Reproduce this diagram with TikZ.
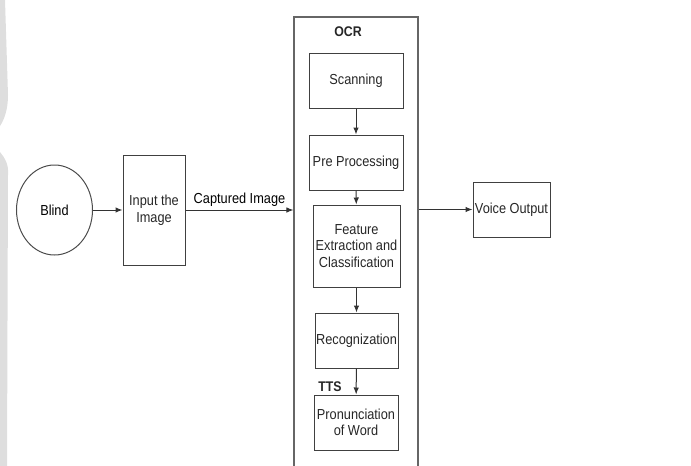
\documentclass[tikz,border=0pt]{standalone}
\usepackage{fontspec}
\setmainfont{Liberation Sans}[FakeStretch=0.88]
\usetikzlibrary{shapes.geometric,arrows.meta}
\tikzset{
  box/.style={draw=black!75,line width=1pt,rectangle,inner sep=1pt,align=center,text=black!85},
  conn/.style={draw=black!80,line width=1pt,-{Latex[length=7pt,width=5.5pt]}},
  lbl/.style={font=\fontsize{14}{16}\selectfont\bfseries,text=black!85}
}
\begin{document}
\begin{tikzpicture}[x=1pt,y=-1pt,font=\fontsize{14.5}{16.5}\selectfont]
\useasboundingbox (0,0) rectangle (691,466);
% grey scan edge on the left
\fill[black!13] (0,0) -- (5,0) -- (8,95) .. controls (8,110) and (4,120) .. (0,126) -- cycle;
\fill[black!13] (0,152) .. controls (5,158) and (9,165) .. (8,175) -- (7,466) -- (0,466) -- cycle;
\node[ellipse,draw=black!70,line width=1pt,minimum width=76pt,minimum height=90pt,inner sep=0pt] (blind) at (54.5,210) {Blind};
\node[box,minimum width=62pt,minimum height=110pt] (input) at (154,210) {Input the\\Image};
\node[draw=black!60,line width=1.1pt,minimum width=124pt,minimum height=463pt] (ocr) at (356,248.5) {};
\node[lbl] (ocrlbl) at (348,32) {OCR};
\node[box,minimum width=94pt,minimum height=55pt] (scan) at (356,80.5) {Scanning};
\node[box,minimum width=94pt,minimum height=55pt] (pre) at (356,162.5) {Pre Processing};
\node[box,minimum width=87pt,minimum height=82pt] (feat) at (356.5,246) {Feature\\Extraction and\\Classification};
\node[box,minimum width=83pt,minimum height=55pt] (recog) at (356.5,340.5) {Recognization};
\node[box,minimum width=84pt,minimum height=55pt] (pron) at (356,422.5) {Pronunciation\\of Word};
\node[lbl] (tts) at (330,387) {TTS};
\node[box,minimum width=77pt,minimum height=55pt] (voice) at (511.5,209.5) {Voice Output};
\draw[conn] (blind) -- (input);
\draw[conn] (input.east) -- node[above=0pt] {Captured Image} (input.east -| ocr.west);
\draw[conn] (scan) -- (pre);
\draw[conn] (pre) -- (feat);
\draw[conn] (feat) -- (recog);
\draw[conn] (recog) -- (pron);
\draw[conn] (voice.west -| ocr.east) -- (voice.west);
\end{tikzpicture}
\end{document}
